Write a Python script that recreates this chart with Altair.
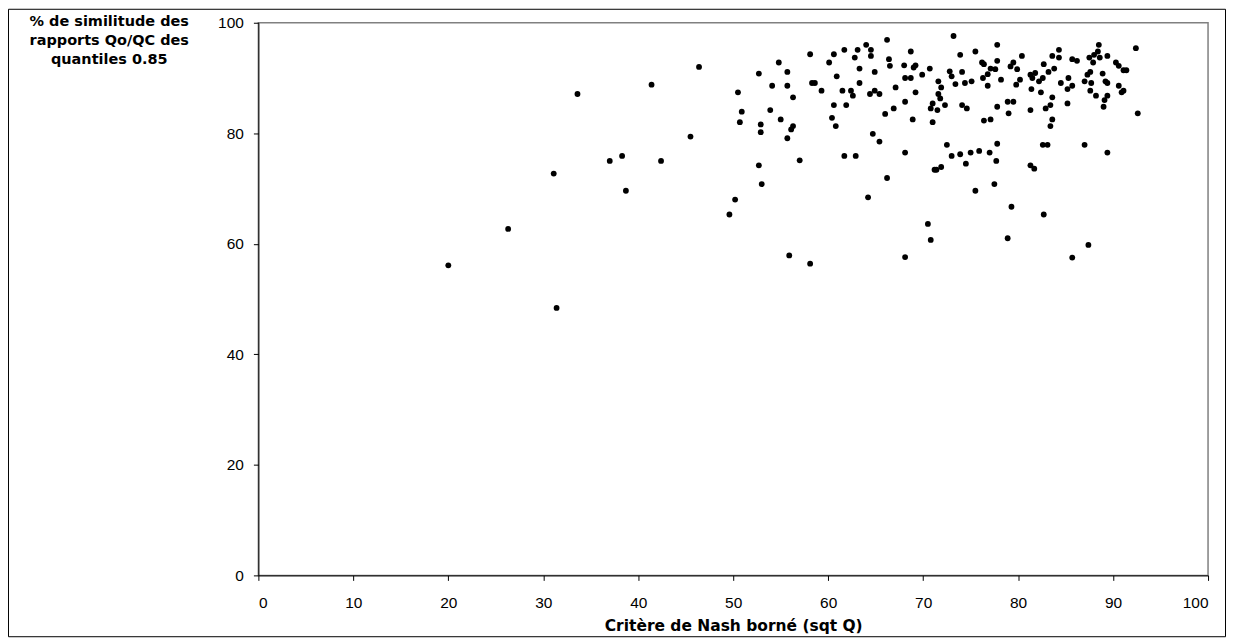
import altair as alt
import pandas as pd

# Critère de Nash borné (sqt Q)
nash = [
    20.0, 26.3, 31.1, 31.4, 33.6, 37.0, 38.3, 38.7, 41.4, 42.4, 45.5,
    46.4, 50.5, 50.9, 50.7, 52.7, 52.9, 52.9, 52.7, 53.0, 50.2, 49.6,
    54.8, 54.1, 53.9, 55.0, 55.7, 55.7, 56.3, 56.3, 56.1, 55.7, 57.0,
    58.1, 58.3, 58.6, 59.3, 60.1, 60.6, 61.7, 62.8, 63.1, 64.0, 64.5,
    64.5, 66.2, 66.4, 66.5, 63.3, 64.9, 60.9, 63.3, 61.5, 62.4, 62.6,
    64.4, 64.9, 65.4, 67.1, 60.6, 61.9, 60.4, 60.8, 66.0, 66.9, 64.7,
    65.4, 61.7, 62.9, 66.2, 64.2, 68.1, 68.9, 68.1, 68.0, 68.7, 69.0,
    69.2, 68.1, 68.7, 69.2, 69.9, 55.9, 58.1, 68.1, 70.5,
    73.2, 77.8, 73.9, 75.5, 77.8, 76.2, 76.4, 70.7, 72.8, 73.0, 74.1,
    71.6, 73.4, 74.4, 75.1, 71.9, 71.6, 71.8, 71.0, 70.8, 71.5, 72.3,
    71.0, 76.8, 77.1, 77.6, 76.3, 76.8, 78.2, 74.1, 74.6, 77.8, 78.9,
    79.5, 79.0, 76.4, 77.1, 79.2, 79.5, 79.9, 80.4, 80.2, 79.8, 81.3,
    81.8, 81.5, 82.2, 82.6, 81.4, 82.4, 82.7, 83.2, 83.8, 83.6, 84.3,
    84.3, 83.6, 83.4, 82.9, 81.3, 83.6, 83.4, 84.5, 85.3, 85.7, 85.2,
    85.2, 85.7, 86.2, 87.0, 87.3, 87.6, 87.5, 87.9, 88.0, 88.4, 88.5,
    88.6, 89.4, 87.7, 87.6, 88.2, 88.9, 89.2, 89.4, 89.4, 89.1, 89.0,
    90.3, 90.6, 91.1, 91.4, 90.6, 91.1, 90.9, 92.4, 92.6, 77.8, 72.5,
    73.0, 73.9, 75.0, 75.9, 77.0, 74.5, 77.7, 71.2, 71.4, 71.9, 77.5,
    75.5, 81.3, 81.7, 82.6, 83.1, 87.0, 89.4,
    79.3, 82.7, 70.8, 78.9, 87.4, 85.7,
]

# % de similitude des rapports Qo/QC des quantiles 0.85
similitude = [
    56.1, 62.7, 72.7, 48.4, 87.1, 75.0, 75.9, 69.6, 88.8, 75.0, 79.4,
    92.0, 87.4, 83.9, 82.0, 90.8, 81.6, 80.2, 74.2, 70.8, 68.0, 65.3,
    92.8, 88.6, 84.2, 82.5, 91.1, 88.6, 86.5, 81.3, 80.7, 79.1, 75.1,
    94.3, 89.1, 89.1, 87.7, 92.8, 94.3, 95.1, 93.7, 95.1, 96.0, 95.1,
    94.0, 96.9, 93.4, 92.2, 91.7, 91.1, 90.3, 89.1, 87.7, 87.7, 86.8,
    87.1, 87.7, 87.1, 88.3, 85.1, 85.1, 82.8, 81.3, 83.5, 84.5, 79.9,
    78.5, 75.9, 75.9, 71.9, 68.4, 85.7, 82.5, 76.5, 92.3, 94.8, 91.9,
    92.3, 90.0, 90.0, 87.4, 90.6, 57.9, 56.4, 57.6, 63.6,
    97.6, 96.0, 94.2, 94.8, 93.1, 92.8, 92.5, 91.7, 91.2, 90.3, 91.1,
    89.4, 88.9, 89.1, 89.4, 88.3, 87.1, 86.3, 85.4, 84.5, 84.2, 85.1,
    82.0, 90.7, 91.7, 91.6, 90.0, 88.6, 89.7, 85.1, 84.5, 84.8, 85.7,
    85.7, 83.6, 82.3, 82.5, 92.1, 92.8, 91.6, 94.0, 89.7, 88.8, 90.6,
    90.9, 90.0, 89.4, 90.0, 88.0, 87.4, 92.5, 91.1, 91.7, 94.0, 95.1,
    93.7, 86.5, 85.1, 84.5, 84.2, 82.5, 81.3, 89.1, 90.0, 88.6, 88.0,
    85.4, 93.4, 93.1, 89.4, 90.6, 91.1, 93.7, 92.8, 94.2, 94.8, 96.0,
    93.7, 94.0, 89.1, 87.7, 86.8, 90.8, 89.4, 89.1, 86.8, 86.0, 84.8,
    92.8, 92.2, 91.4, 91.4, 88.6, 87.7, 87.4, 95.4, 83.6, 78.1, 77.9,
    75.9, 76.2, 76.5, 76.8, 76.5, 74.5, 75.0, 73.4, 73.4, 73.9, 70.8,
    69.6, 74.2, 73.6, 77.9, 77.9, 77.9, 76.5,
    66.7, 65.3, 60.7, 61.0, 59.8, 57.5,
]

x_ticks = [0, 10, 20, 30, 40, 50, 60, 70, 80, 90, 100]
y_ticks = [0, 20, 40, 60, 80, 100]

df = pd.DataFrame({"nash": nash, "sim": similitude})

W, H = 952, 554
FONT = "Liberation Sans"
TFONT = "DejaVu Sans"

frame = alt.Chart(pd.DataFrame({"a": [0]})).mark_rect(
    fill=None, stroke="black", strokeWidth=1
).encode(
    x=alt.value(-250.5), x2=alt.value(W + 17.5),
    y=alt.value(-13.5), y2=alt.value(H + 61.5),
)

points = alt.Chart(df).mark_circle(
    size=34, color="black", opacity=1
).encode(
    x=alt.X("nash:Q",
            scale=alt.Scale(domain=[0, 100], nice=False, zero=True),
            axis=alt.Axis(values=x_ticks, title="Critère de Nash borné (sqt Q)",
                          grid=False, domainColor="black", tickColor="black",
                          tickSize=5, labelFont=FONT, labelFontSize=15.5,
                          labelColor="black", labelPadding=15,
                          titleFont=TFONT, titleFontSize=15.5, titleFontWeight="bold",
                          titleColor="black", titlePadding=8)),
    y=alt.Y("sim:Q",
            scale=alt.Scale(domain=[0, 100], nice=False),
            axis=alt.Axis(values=y_ticks,
                          title=["% de similitude des", "rapports Qo/QC des", "quantiles 0.85"],
                          grid=False, domainColor="black", tickColor="black",
                          tickSize=5, labelFont=FONT, labelFontSize=15.5,
                          labelColor="black", labelPadding=10,
                          titleFont=TFONT, titleFontSize=14.5, titleFontWeight="bold",
                          titleColor="black", titleAngle=0, titleAlign="center",
                          titleBaseline="top", titleX=-150, titleY=-8,
                          titleLineHeight=19)),
)

chart = alt.layer(frame, points).properties(
    width=W, height=H,
    autosize=alt.AutoSizeParams(type="none"),
    padding={"left": 251, "top": 14, "right": 18, "bottom": 63},
    background="white",
).configure_view(
    stroke="#808080", strokeWidth=1.5
)

chart.save("out.html", embed_options={"renderer": "svg", "actions": False})
